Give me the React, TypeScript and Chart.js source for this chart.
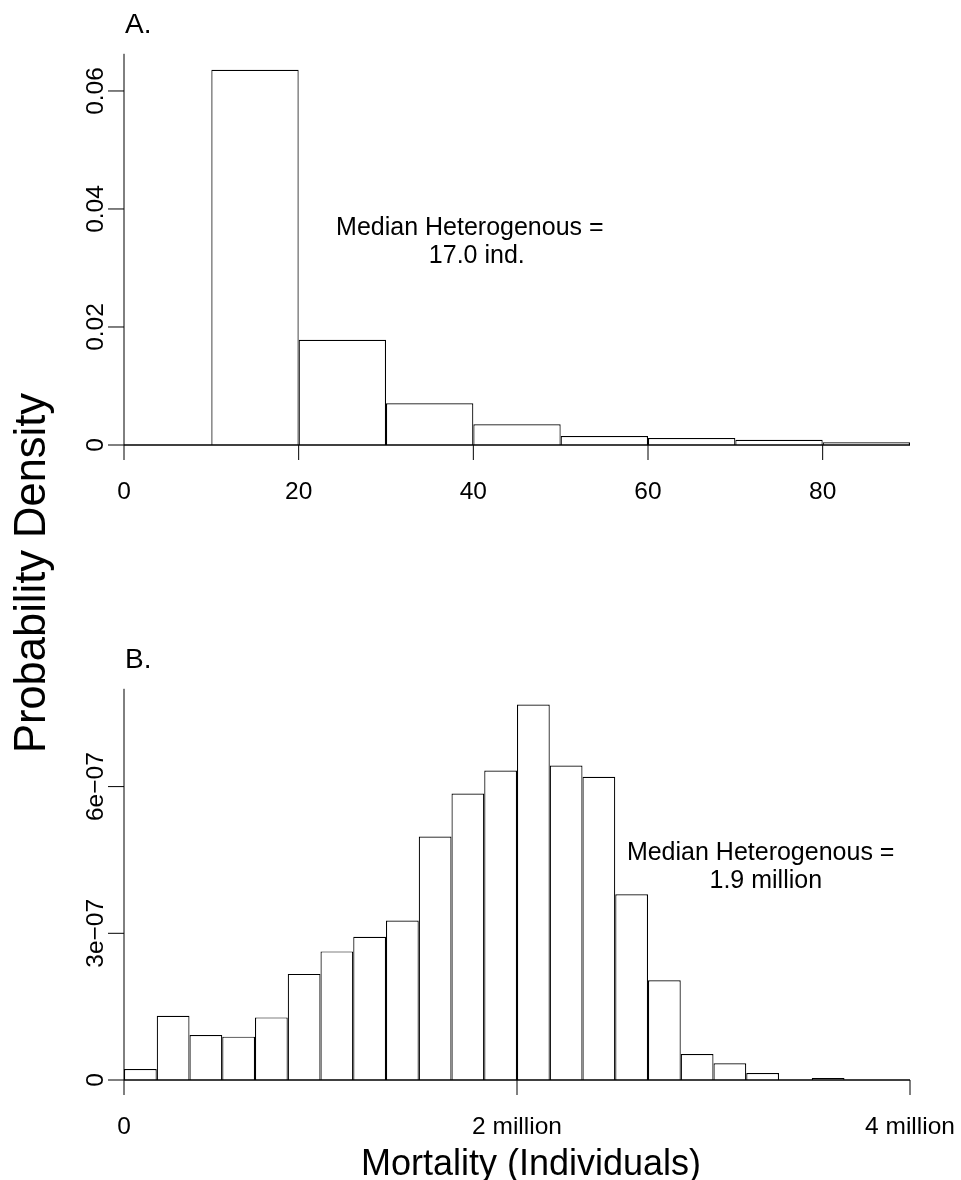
import React, { useEffect, useRef } from "react";
import { Chart, registerables } from "chart.js";

Chart.register(...registerables);

// ---------- Panel A data ----------
const binEdgesA = [0, 10, 20, 30, 40, 50, 60, 70, 80, 90];
const densityA = [0, 0.0636, 0.01785, 0.00707, 0.0035, 0.00153, 0.00119, 0.0009, 0.00046];
const xTicksA = [0, 20, 40, 60, 80];
const xTickLabelsA = ["0", "20", "40", "60", "80"];
const yTicksA = [0, 0.02, 0.04, 0.06];
const yTickLabelsA = ["0", "0.02", "0.04", "0.06"];
const annotationA = ["Median Heterogenous =", "17.0 ind."];

// ---------- Panel B data ----------
const binEdgesB = [
  0, 166667, 333333, 500000, 666667, 833333, 1000000, 1166667, 1333333, 1500000,
  1666667, 1833333, 2000000, 2166667, 2333333, 2500000, 2666667, 2833333, 3000000,
  3166667, 3333333, 3500000, 3666667, 3833333, 4000000,
];
const densityB = [
  2.25e-8, 1.315e-7, 9.2e-8, 8.86e-8, 1.28e-7, 2.17e-7, 2.63e-7, 2.93e-7, 3.26e-7,
  4.98e-7, 5.86e-7, 6.33e-7, 7.68e-7, 6.43e-7, 6.2e-7, 3.8e-7, 2.04e-7, 5.3e-8,
  3.4e-8, 1.43e-8, 0, 4e-9, 0, 0,
];
const xTicksB = [0, 2000000, 4000000];
const xTickLabelsB = ["0", "2 million", "4 million"];
const yTicksB = [0, 3e-7, 6e-7];
const yTickLabelsB = ["0", "3e\u221207", "6e\u221207"];
const annotationB = ["Median Heterogenous =", "1.9 million"];

const yTitle = "Probability Density";
const xTitle = "Mortality (Individuals)";

const FONT = "'Liberation Sans', Arial, Helvetica, sans-serif";

type PanelSpec = {
  letter: string;
  xTicks: number[];
  xTickLabels: string[];
  yTicks: number[];
  yTickLabels: string[];
  annotation: string[];
  annotationPos: { x: number; y: number }[];
  drawYTitle?: boolean;
  drawXTitle?: boolean;
};

function makePlugin(p: PanelSpec) {
  return {
    id: "rStyleAxes",
    afterDatasetsDraw(chart: any) {
      const { ctx, chartArea } = chart;
      const xs = chart.scales.x;
      const ys = chart.scales.y;
      const y0 = ys.getPixelForValue(0);
      const left = chartArea.left;
      ctx.save();
      ctx.strokeStyle = "#000";
      ctx.fillStyle = "#000";

      // baseline along the bars
      ctx.lineWidth = 1.5;
      ctx.beginPath();
      ctx.moveTo(xs.getPixelForValue(xs.min), y0);
      ctx.lineTo(xs.getPixelForValue(xs.max), y0);
      ctx.stroke();

      // y axis line
      ctx.lineWidth = 1;
      ctx.beginPath();
      ctx.moveTo(left, y0);
      ctx.lineTo(left, chartArea.top);
      ctx.stroke();

      // y ticks + rotated labels
      ctx.font = `24.5px ${FONT}`;
      p.yTicks.forEach((v, i) => {
        const py = ys.getPixelForValue(v);
        ctx.beginPath();
        ctx.moveTo(left - 16, py);
        ctx.lineTo(left, py);
        ctx.stroke();
        ctx.save();
        ctx.translate(left - 21, py);
        ctx.rotate(-Math.PI / 2);
        ctx.textAlign = "center";
        ctx.textBaseline = "alphabetic";
        ctx.fillText(p.yTickLabels[i], 0, 0);
        ctx.restore();
      });

      // x ticks + labels
      p.xTicks.forEach((v, i) => {
        const px = xs.getPixelForValue(v);
        ctx.beginPath();
        ctx.moveTo(px, y0);
        ctx.lineTo(px, y0 + 15);
        ctx.stroke();
        ctx.textAlign = "center";
        ctx.textBaseline = "alphabetic";
        ctx.fillText(p.xTickLabels[i], px, y0 + 54);
      });

      // panel letter
      ctx.font = `28px ${FONT}`;
      ctx.textAlign = "left";
      ctx.textBaseline = "alphabetic";
      ctx.fillText(p.letter, left + 1, chartArea.top - 20.5);

      // annotation
      ctx.font = `25px ${FONT}`;
      ctx.textAlign = "center";
      p.annotation.forEach((t, i) => {
        const pos = p.annotationPos[i];
        ctx.fillText(t, xs.getPixelForValue(pos.x), ys.getPixelForValue(pos.y));
      });

      if (p.drawYTitle) {
        ctx.font = `43.5px ${FONT}`;
        ctx.save();
        ctx.translate(45, 573);
        ctx.rotate(-Math.PI / 2);
        ctx.textAlign = "center";
        ctx.textBaseline = "alphabetic";
        ctx.fillText(yTitle, 0, 0);
        ctx.restore();
      }
      if (p.drawXTitle) {
        ctx.font = `36px ${FONT}`;
        ctx.textAlign = "center";
        ctx.textBaseline = "alphabetic";
        ctx.fillText(xTitle, 531, y0 + 95);
      }
      ctx.restore();
    },
  };
}

function histData(edges: number[], dens: number[]) {
  return dens.map((d, i) => ({ x: (edges[i] + edges[i + 1]) / 2, y: d }));
}

function makeConfig(
  edges: number[],
  dens: number[],
  xMax: number,
  yMax: number,
  xStep: number,
  padding: { left: number; right: number; top: number; bottom: number },
  spec: PanelSpec
): any {
  return {
    type: "bar",
    data: {
      datasets: [
        {
          data: histData(edges, dens),
          backgroundColor: "#ffffff",
          borderColor: "#000000",
          borderWidth: 1.2,
          borderSkipped: "start",
          barPercentage: 1,
          categoryPercentage: 1,
          inflateAmount: 0,
        },
      ],
    },
    options: {
      animation: false,
      responsive: false,
      events: [],
      layout: { padding },
      scales: {
        x: {
          type: "linear",
          min: 0,
          max: xMax,
          offset: false,
          display: false,
          ticks: { stepSize: xStep },
          grid: { display: false },
        },
        y: {
          type: "linear",
          min: 0,
          max: yMax,
          display: false,
          grid: { display: false },
        },
      },
      plugins: {
        legend: { display: false },
        tooltip: { enabled: false },
        title: { display: false },
      },
    },
    plugins: [makePlugin(spec)],
  };
}

export default function App() {
  const refA = useRef<HTMLCanvasElement>(null);
  const refB = useRef<HTMLCanvasElement>(null);

  useEffect(() => {
    const chartA = new Chart(
      refA.current as HTMLCanvasElement,
      makeConfig(
        binEdgesA,
        densityA,
        90,
        0.0663,
        10,
        { left: 124, right: 51, top: 53.8, bottom: 735 },
        {
          letter: "A.",
          xTicks: xTicksA,
          xTickLabels: xTickLabelsA,
          yTicks: yTicksA,
          yTickLabels: yTickLabelsA,
          annotation: annotationA,
          annotationPos: [
            { x: 39.6, y: 0.0356 },
            { x: 40.4, y: 0.03085 },
          ],
          drawYTitle: true,
        }
      )
    );
    const chartB = new Chart(
      refB.current as HTMLCanvasElement,
      makeConfig(
        binEdgesB,
        densityB,
        4000000,
        8e-7,
        1000000,
        { left: 124, right: 51, top: 88.8, bottom: 100 },
        {
          letter: "B.",
          xTicks: xTicksB,
          xTickLabels: xTickLabelsB,
          yTicks: yTicksB,
          yTickLabels: yTickLabelsB,
          annotation: annotationB,
          annotationPos: [
            { x: 3240000, y: 4.5e-7 },
            { x: 3266000, y: 3.93e-7 },
          ],
          drawXTitle: true,
        }
      )
    );
    return () => {
      chartA.destroy();
      chartB.destroy();
    };
  }, []);

  return (
    <div
      style={{
        position: "absolute",
        left: 0,
        top: 0,
        width: 961,
        height: 1180,
        background: "#ffffff",
        overflow: "hidden",
      }}
    >
      <canvas
        ref={refA}
        width={961}
        height={1180}
        style={{ position: "absolute", left: 0, top: 0, width: 961, height: 1180 }}
      />
      <canvas
        ref={refB}
        width={961}
        height={580}
        style={{ position: "absolute", left: 0, top: 600, width: 961, height: 580 }}
      />
    </div>
  );
}
